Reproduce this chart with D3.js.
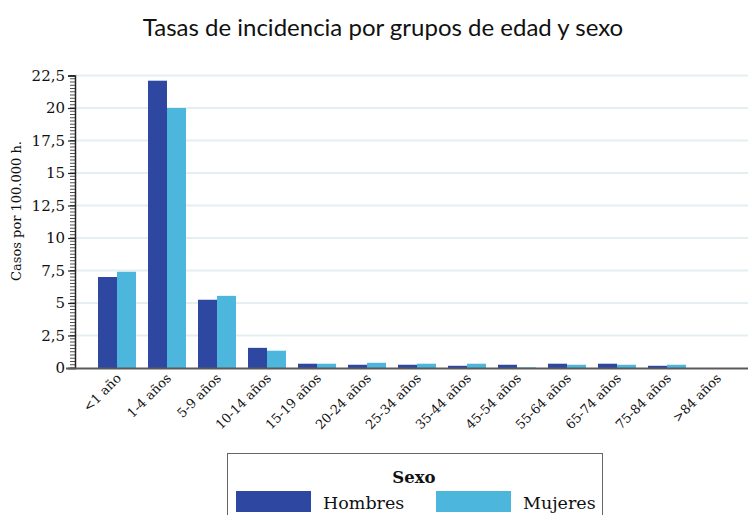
<!DOCTYPE html>
<html><head><meta charset="utf-8">
<script src="https://cdn.jsdelivr.net/npm/d3@7"></script>
<style>body{margin:0;background:#fff}svg{display:block}</style>
</head><body>
<svg id="c" width="748" height="515"></svg>
<script>
const categories = ["<1 año","1-4 años","5-9 años","10-14 años","15-19 años","20-24 años","25-34 años","35-44 años","45-54 años","55-64 años","65-74 años","75-84 años",">84 años"];
const hombres = [7.0,22.1,5.25,1.55,0.33,0.25,0.25,0.17,0.25,0.33,0.33,0.17,0];
const mujeres = [7.4,20.0,5.55,1.33,0.33,0.4,0.33,0.33,0.05,0.25,0.25,0.25,0];
const yTicks = [0,2.5,5,7.5,10,12.5,15,17.5,20,22.5];
const seriesNames = ["Hombres","Mujeres"];
const colors = ["#2e48a2","#4cb6dd"];

const svg = d3.select("#c");
const serif = "'DejaVu Serif','Liberation Serif',serif";
const y = d3.scaleLinear().domain([0,22.5]).range([368,75.5]);
const x = d3.scaleBand().domain(categories).range([92,742]).paddingInner(0.24).paddingOuter(0.12);
const xs = d3.scaleBand().domain(seriesNames).range([0,x.bandwidth()]);

// title
svg.append("text").attr("x",383).attr("y",36).attr("text-anchor","middle")
  .style("font-family","Lato,'Open Sans',sans-serif").style("font-size","24px").style("font-weight","400").attr("fill","#111")
  .text("Tasas de incidencia por grupos de edad y sexo");

// gridlines
svg.append("g").selectAll("line").data(yTicks.filter(d=>d>0)).join("line")
  .attr("x1",75).attr("x2",748).attr("y1",d=>y(d)).attr("y2",d=>y(d))
  .attr("stroke","#e4eff2").attr("stroke-width",2);

// bars
const data = categories.map((c,i)=>({c, vals:[hombres[i],mujeres[i]]}));
const g = svg.append("g");
data.forEach(d=>{
  d.vals.forEach((v,j)=>{
    g.append("rect").attr("x",x(d.c)+xs(seriesNames[j])).attr("width",xs.bandwidth())
      .attr("y",y(v)).attr("height",y(0)-y(v)).attr("fill",colors[j]);
  });
});

// minor ticks
const minor = d3.range(0,22.5001,0.25);
svg.append("g").selectAll("line").data(minor).join("line")
  .attr("x1",70).attr("x2",75).attr("y1",d=>y(d)).attr("y2",d=>y(d))
  .attr("stroke","#222").attr("stroke-width",0.8);

// y axis
const ya = svg.append("g").attr("transform","translate(75,0)")
  .call(d3.axisLeft(y).tickValues(yTicks).tickSize(7).tickPadding(3).tickFormat(d=>String(d).replace(".",",")));
ya.select(".domain").attr("stroke","#222").attr("stroke-width",1.5);
ya.selectAll(".tick line").attr("stroke","#222").attr("stroke-width",1.2);
ya.selectAll("text").style("font-family",serif).style("font-size","15px").attr("fill","#111");

// baseline
svg.append("line").attr("x1",66).attr("x2",748).attr("y1",y(0)+0.5).attr("y2",y(0)+0.5)
  .attr("stroke","#5a5a5a").attr("stroke-width",2);

// x labels
const xa = svg.append("g").attr("transform",`translate(0,${y(0)})`)
  .call(d3.axisBottom(x).tickSize(0).tickPadding(0));
xa.select(".domain").remove();
xa.selectAll("text").attr("text-anchor","end").attr("dy",0).attr("y",0)
  .attr("transform","translate(5,11) rotate(-45)")
  .style("font-family",serif).style("font-size","13px").attr("fill","#111");

// y title
svg.append("text").attr("transform","translate(21,211) rotate(-90)").attr("text-anchor","middle")
  .style("font-family",serif).style("font-size","13px").attr("fill","#111").text("Casos por 100.000 h.");

// legend
const lg = svg.append("g");
lg.append("rect").attr("x",227.5).attr("y",453.5).attr("width",375).attr("height",70)
  .attr("fill","none").attr("stroke","#666").attr("stroke-width",1);
lg.append("text").attr("x",414).attr("y",483).attr("text-anchor","middle")
  .style("font-family",serif).style("font-size","16.5px").style("font-weight","bold").attr("fill","#111").text("Sexo");
const lx = [236,436];
seriesNames.forEach((n,i)=>{
  lg.append("rect").attr("x",lx[i]).attr("y",491).attr("width",75).attr("height",21).attr("fill",colors[i]);
  lg.append("text").attr("x",lx[i]+87).attr("y",509).style("font-family",serif).style("font-size","17.5px")
    .attr("fill","#111").text(n);
});
</script>
</body></html>
